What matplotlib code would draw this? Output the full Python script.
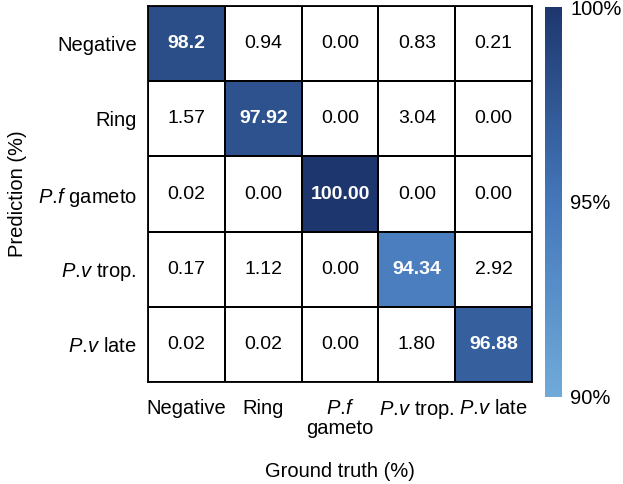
import numpy as np
import matplotlib
matplotlib.use("Agg")
import matplotlib.pyplot as plt
from matplotlib.colors import LinearSegmentedColormap

plt.rcParams["font.family"] = ["Liberation Sans", "DejaVu Sans"]
plt.rcParams["mathtext.fontset"] = "custom"
plt.rcParams["mathtext.it"] = "Liberation Sans:italic"
plt.rcParams["mathtext.rm"] = "Liberation Sans"

# ── Dados ────────────────────────────────────────────────────────────────
row_labels = ["Negative", "Ring", r"$\mathit{P.\!f}$ gameto",
              r"$\mathit{P.\!v}$ trop.", r"$\mathit{P.\!v}$ late"]
col_labels = ["Negative", "Ring", r"$\mathit{P.\!f}$" + "\ngameto",
              r"$\mathit{P.\!v}$ trop.", r"$\mathit{P.\!v}$ late"]
cell_text = [
    ["98.2", "0.94", "0.00", "0.83", "0.21"],
    ["1.57", "97.92", "0.00", "3.04", "0.00"],
    ["0.02", "0.00", "100.00", "0.00", "0.00"],
    ["0.17", "1.12", "0.00", "94.34", "2.92"],
    ["0.02", "0.02", "0.00", "1.80", "96.88"],
]
values = np.array([[float(v) for v in row] for row in cell_text])
cbar_ticks = [90, 95, 100]
cbar_ticklabels = ["90%", "95%", "100%"]

cmap = LinearSegmentedColormap.from_list(
    "cm_blue", ["#70aad9", "#4477ba", "#1d376e"])
cmap.set_under("white")

fig = plt.figure(figsize=(6.23, 4.84), dpi=100)
ax = fig.add_axes([0.2376, 0.2107, 0.6164, 0.7769])
cax = fig.add_axes([0.8748, 0.1798, 0.0273, 0.8057])

n = len(row_labels)
mesh = ax.pcolormesh(np.arange(n + 1), np.arange(n + 1), values,
                     cmap=cmap, vmin=90, vmax=100,
                     edgecolors="black", linewidth=1.3)
ax.set_xlim(0, n); ax.set_ylim(n, 0)

for i in range(n):
    for j in range(n):
        diag = values[i, j] >= 90
        ax.text(j + 0.5, i + 0.5, cell_text[i][j], ha="center", va="center",
                fontsize=14, color="white" if diag else "black",
                fontweight="bold" if diag else "normal")

for s in ax.spines.values():
    s.set_linewidth(1.3)
ax.set_xticks(np.arange(n) + 0.5)
ax.set_yticks(np.arange(n) + 0.5)
ax.set_xticklabels(col_labels, fontsize=14.5, va="top", linespacing=1.1)
ax.set_yticklabels(row_labels, fontsize=14.5)
ax.tick_params(axis="x", length=0, pad=12)
ax.tick_params(axis="y", length=0, pad=8)
ax.set_xlabel("Ground truth (%)", fontsize=14.5, labelpad=17)
ax.set_ylabel("Prediction (%)", fontsize=14.5, labelpad=8)

cb = fig.colorbar(mesh, cax=cax, extend="neither")
cb.outline.set_visible(False)
cb.set_ticks(cbar_ticks)
cb.set_ticklabels(cbar_ticklabels)
cax.tick_params(length=0, labelsize=14.5, pad=6)

fig.savefig("out.png", dpi=100)
